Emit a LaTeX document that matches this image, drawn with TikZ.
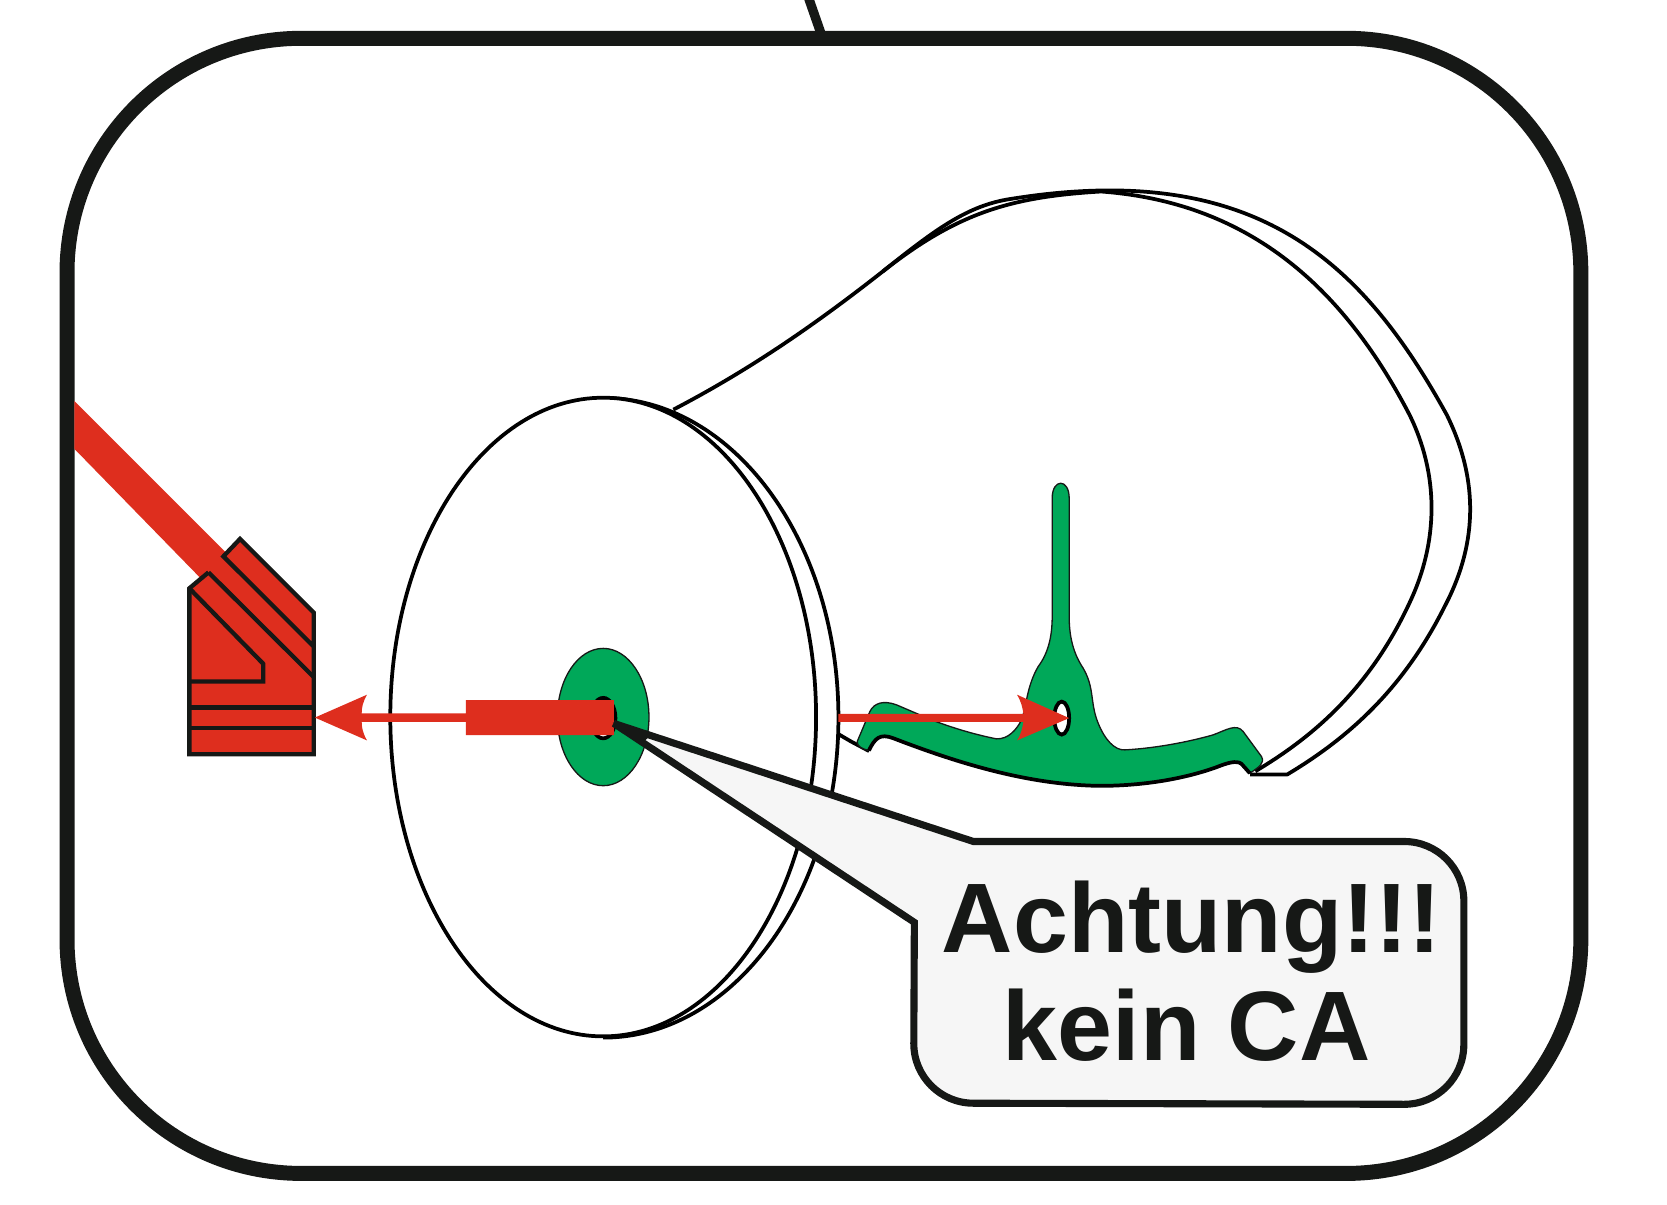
\documentclass[tikz,border=0pt]{standalone}
\usepackage{fontspec}
\setmainfont{Liberation Sans}
\definecolor{ink}{HTML}{161816}
\definecolor{redc}{HTML}{DE2E1E}
\definecolor{greenc}{HTML}{00A859}
\definecolor{boxc}{HTML}{F6F6F6}
\tikzset{
 outline/.style={draw=black,line width=1pt,line join=round},
 conn/.style={draw=ink,line width=1.15pt,line join=miter},
 warntext/.style={ink,font=\bfseries\fontsize{26.4}{29}\selectfont,inner sep=0pt,anchor=base},
}
\begin{document}
\begin{tikzpicture}[x=0.01cm,y=-0.01cm]
\useasboundingbox (0,0) rectangle (1567,1132);
% frame
\coordinate (ticktop) at (759,-5);
\coordinate (tickend) at (774,38);
\draw[draw=ink,line width=2.5pt] (ticktop) -- (tickend);
\draw[ink,line width=4pt,rounded corners=2.2cm] (63,36) rectangle (1486,1103);
% cable band
\fill[redc] (70,377) -- (215,522) -- (196,540) -- (190,545) -- (70,422) -- cycle;
% connector
\fill[redc] (178,553) -- (196,538) -- (210,523) -- (225.6,506.6) -- (295,576) -- (295,709) -- (178,709) -- cycle;
\draw[conn] (196,538) -- (178,553) -- (178,709) -- (295,709) -- (295,576) -- (225.6,506.6) -- (210,523) -- (295,607.8);
\draw[conn] (196,538) -- (294.5,636);
\draw[conn] (178,553) -- (247.5,624) -- (247.5,640.6) -- (178,640.6);
\draw[conn] (178,665) -- (295,665);
\draw[conn] (178,684.3) -- (295,684.3);
% head outline
\draw[outline] (633,385) .. controls (700,350) and (760,310) .. (830,255)
  .. controls (880,215) and (910,193) .. (950,187)
  .. controls (1180,150) and (1280,245) .. (1360,390)
  .. controls (1392,455) and (1387,515) .. (1358,570)
  .. controls (1318,650) and (1265,695) .. (1210,728) -- (1175,728);
\draw[outline] (830,255) .. controls (900,200) and (950,185) .. (1035,180)
  .. controls (1170,190) and (1260,265) .. (1325,390)
  .. controls (1352,445) and (1352,505) .. (1328,560)
  .. controls (1288,650) and (1230,695) .. (1180,725);
\draw[outline] (788,690) -- (800,697) -- (817,706);
% green T piece
\begin{scope}[shift={(751.9,413.5)},scale=0.3133]
\path[fill=greenc,draw=ink,line width=.35pt] (207,932)
  .. controls (190,928) and (170,920) .. (172,905)
  -- (210,815) .. controls (222,790) and (250,780) .. (290,795)
  -- (400,842) .. controls (470,868) and (530,885) .. (590,897)
  .. controls (625,898) and (650,870) .. (665,840)
  .. controls (680,800) and (680,740) .. (715,680)
  .. controls (745,640) and (757,590) .. (757,530)
  -- (757,175) .. controls (757,115) and (808,115) .. (808,175)
  -- (808,530) .. controls (808,590) and (820,640) .. (850,685)
  .. controls (885,745) and (870,790) .. (895,850)
  .. controls (915,900) and (945,932) .. (975,930)
  .. controls (1070,925) and (1170,905) .. (1240,885)
  .. controls (1280,870) and (1310,850) .. (1330,875)
  -- (1385,950) .. controls (1395,970) and (1380,980) .. (1350,1000)
  -- (1325,972) .. controls (1310,960) and (1280,970) .. (1250,982)
  .. controls (1130,1025) and (1000,1038) .. (900,1038)
  .. controls (700,1035) and (500,980) .. (280,895)
  .. controls (240,880) and (225,895) .. (207,932) -- cycle;
\draw[black,line width=1pt] (207,932) .. controls (225,895) and (240,880) .. (280,895)
  .. controls (500,980) and (700,1035) .. (900,1038)
  .. controls (1000,1038) and (1130,1025) .. (1250,982)
  .. controls (1280,970) and (1310,960) .. (1325,972) -- (1350,1000);
\end{scope}
\draw[fill=white,draw=black,line width=1pt] (998,675) ellipse [x radius=.07cm,y radius=.155cm];
% disc
\draw[outline] (567,374) arc[start angle=90,end angle=-90,x radius=2.21cm,y radius=3.005cm];
\draw[outline,fill=white] (567,674) ellipse [x radius=2cm,y radius=3cm];
\draw[fill=greenc,draw=ink,line width=.35pt] (567,674) ellipse [x radius=.43cm,y radius=.645cm];
\draw[fill=white,draw=black,line width=1pt] (567,675) ellipse [x radius=.115cm,y radius=.19cm];
% right arrow
\fill[redc] (788,671) -- (962,671) .. controls (961,664) and (960,660) .. (956,653)
  -- (1005,675) -- (956,696) .. controls (960,690) and (961,684) .. (962,678.5) -- (788,678.5) -- cycle;
% left arrow
\fill[redc] (296,674.5) -- (345,653) .. controls (341,660) and (340,665) .. (340,670.5)
  -- (438,670.5) -- (438,658) -- (577,658) -- (577,691) -- (438,691) -- (438,678.5) -- (340,678.5)
  .. controls (340,684) and (341,689) .. (345,696) -- cycle;
% callout
\draw[ink,line width=1.9pt,fill=boxc,line join=miter,miter limit=2]
  (577,680) -- (915,791) -- (1320,791)
  arc[start angle=90,end angle=0,radius=.56cm] -- (1376,982)
  arc[start angle=0,end angle=-90,radius=.56cm] -- (915,1037)
  arc[start angle=270,end angle=180,radius=.56cm] -- (859.5,867) -- cycle;
\fill[ink] (576,679) -- (612,691) -- (604,698) -- cycle;
\node[warntext] (warn1) at (1120,895) {Achtung!!!};
\node[warntext] (warn2) at (1115.5,997) {kein CA};
\end{tikzpicture}
\end{document}
